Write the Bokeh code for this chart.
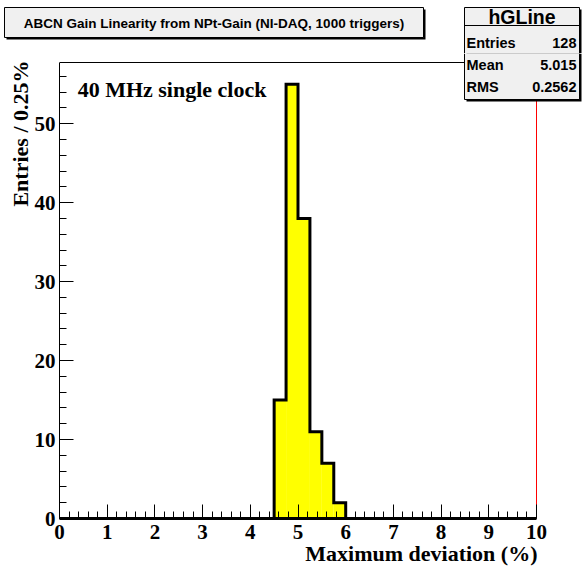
from bokeh.plotting import figure
from bokeh.layouts import column
from bokeh.models import SingleIntervalTicker, Title, Range1d, ColumnDataSource
from bokeh.core.properties import value
from bokeh.embed import file_html
from bokeh.resources import INLINE

# ---- data ----
bin_left = [4.5, 4.75, 5.0, 5.25, 5.5, 5.75]
bin_width = 0.25
counts = [15, 55, 38, 11, 7, 2]
x_min, x_max = 0, 10
y_max = 57.75
title_text = "ABCN Gain Linearity from NPt-Gain (NI-DAQ, 1000 triggers)"
x_title = "Maximum deviation (%)"
y_title = "Entries / 0.25%"
note_text = "40 MHz single clock"
stats_name = "hGLine"
stats_labels = ["Entries", "Mean", "RMS"]
stats_values = ["128", "5.015", "0.2562"]

SERIF = "Liberation Serif"
SANS = "Liberation Sans"

# ---- layout constants (canvas pixels) ----
W, H = 583, 567
SPLIT = 53                      # boundary between header strip and main plot
FL, FR, FT, FB = 59, 536, 62, 518   # axes frame (x_min..x_max, 0..y_max)
px_x = (FR - FL) / (x_max - x_min)
px_y = (FB - FT) / y_max
TB = dict(l=4, r=423, t=7, b=37)     # title box
SB = dict(l=464, r=579, t=7, b=99, sep=25)  # stats box
ROW_Y = [42, 64, 86]

# ================= main plot =================
p = figure(width=W, height=H - SPLIT, output_backend="svg", toolbar_location=None,
           x_range=Range1d(x_min, x_min + (W - FL) / px_x),
           y_range=Range1d(0, (FB - SPLIT) / px_y),
           min_border_left=FL, min_border_right=0, min_border_top=0,
           min_border_bottom=H - FB, frame_align=False)
p.extra_x_ranges = {"px": Range1d(FL, W)}
p.extra_y_ranges = {"px": Range1d(FB, SPLIT)}
p.title.visible = False
p.outline_line_color = None
p.background_fill_color = "white"
p.border_fill_color = "white"
p.grid.visible = False

# histogram fill
bin_right = [l + bin_width for l in bin_left]
src = ColumnDataSource(dict(left=bin_left, right=bin_right, top=counts,
                            bottom=[0] * len(counts)))
p.quad(left="left", right="right", top="top", bottom="bottom", source=src,
       fill_color="#ffff00", line_color=None)

# frame top (black) and right (red) borders
p.line([x_min, x_max], [y_max, y_max], line_color="black", line_width=1)
p.line([x_max, x_max], [0, y_max], line_color="red", line_width=1)

# histogram outline (step)
xs = [x_min, bin_left[0]]
ys = [0, 0]
for l, r, c in zip(bin_left, bin_right, counts):
    xs += [l, r]
    ys += [c, c]
xs += [bin_right[-1], bin_right[-1], x_max]
ys += [counts[-1], 0, 0]
p.line(xs, ys, line_color="black", line_width=3, line_join="miter")

# axes
for ax in (p.xaxis[0], p.yaxis[0]):
    ax.major_tick_in = 14
    ax.major_tick_out = 0
    ax.minor_tick_in = 7
    ax.minor_tick_out = 0
    ax.major_tick_line_color = "black"
    ax.minor_tick_line_color = "black"
    ax.axis_line_color = "black"
    ax.major_label_text_font = SERIF
    ax.major_label_text_font_style = "bold"
    ax.major_label_text_font_size = "21px"
    ax.major_label_text_color = "black"

p.xaxis[0].ticker = SingleIntervalTicker(interval=1, num_minor_ticks=5)
p.yaxis[0].ticker = SingleIntervalTicker(interval=10, num_minor_ticks=5)
p.xaxis[0].bounds = (x_min, x_max)
p.yaxis[0].bounds = (0, y_max)
p.xaxis[0].axis_line_width = 3
p.xaxis[0].major_label_standoff = 6
p.yaxis[0].major_label_standoff = 4

# axis titles (right/top aligned, like ROOT)
p.add_layout(Title(text=x_title, align="right", text_font=SERIF,
                   text_font_style="bold", text_font_size="22px",
                   text_color="black", standoff=-6, offset=W - FR - 1), "below")
p.add_layout(Title(text=y_title, align="right", text_font=SERIF,
                   text_font_style="bold", text_font_size="22px",
                   text_color="black", standoff=-2, offset=FT - SPLIT - 2), "left")

# note text
p.text(x=[0.38], y=[54.3], text=[note_text], text_font=value(SERIF),
       text_font_style="bold", text_font_size="22px", text_color="black",
       text_baseline="alphabetic")

# ================= header strip =================
top = figure(width=W, height=SPLIT, output_backend="svg", toolbar_location=None,
             x_range=Range1d(0, W), y_range=Range1d(SPLIT, 0), min_border=0,
             x_axis_location=None, y_axis_location=None, frame_align=False)
top.title.visible = False
top.outline_line_color = None
top.grid.visible = False
top.background_fill_color = "white"
top.border_fill_color = "white"


def box_part(fig, l, r, t, b, st, sb, lines, rn=None):
    kw = dict(x_range_name=rn, y_range_name=rn) if rn else {}
    fig.quad(left=[l + 2], right=[r + 2], top=[st], bottom=[sb],
             fill_color="black", line_color=None, **kw)
    fig.quad(left=[l], right=[r], top=[t], bottom=[b], fill_color="#f0f0f0",
             line_color=None, **kw)
    fig.multi_line([ln[0] for ln in lines], [ln[1] for ln in lines],
                   line_color="black", line_width=1, **kw)


def texts(fig, xs_, ys_, txt, size, align, rn=None):
    kw = dict(x_range_name=rn, y_range_name=rn) if rn else {}
    fig.text(x=xs_, y=ys_, text=txt, text_font=value(SANS), text_font_style="bold",
             text_font_size=size, text_color="black", text_align=align,
             text_baseline="middle", **kw)


# title box (entirely in the header strip)
l, r, t, b = TB["l"], TB["r"], TB["t"], TB["b"]
box_part(top, l, r, t, b, t + 2, b + 2,
         [([l, r, r, l, l], [t, t, b, b, t])])
texts(top, [(l + r) / 2], [(t + b) / 2 + 0.5], [title_text], "13.5px", "center")

# stats box, upper part (header strip)
l, r, t, sep, b = SB["l"], SB["r"], SB["t"], SB["sep"], SB["b"]
box_part(top, l, r, t, SPLIT, t + 2, SPLIT,
         [([l, l, r, r], [SPLIT, t, t, SPLIT]), ([l, r], [sep, sep])])
texts(top, [(l + r) / 2], [(t + sep) / 2 + 0.5], [stats_name], "19.5px", "center")
texts(top, [l + 2], [ROW_Y[0]], [stats_labels[0]], "14.5px", "left")
texts(top, [r - 3], [ROW_Y[0]], [stats_values[0]], "14.5px", "right")

# stats box, lower part (inside main plot, pixel coordinates)
box_part(p, l, r, SPLIT, b, SPLIT, b + 2,
         [([l, l, r, r], [SPLIT, b, b, SPLIT])], rn="px")
texts(p, [l + 2] * 2, ROW_Y[1:], stats_labels[1:], "14.5px", "left", rn="px")
texts(p, [r - 3] * 2, ROW_Y[1:], stats_values[1:], "14.5px", "right", rn="px")

layout = column(top, p, spacing=0)
open("out.html", "w").write(file_html(layout, INLINE))
